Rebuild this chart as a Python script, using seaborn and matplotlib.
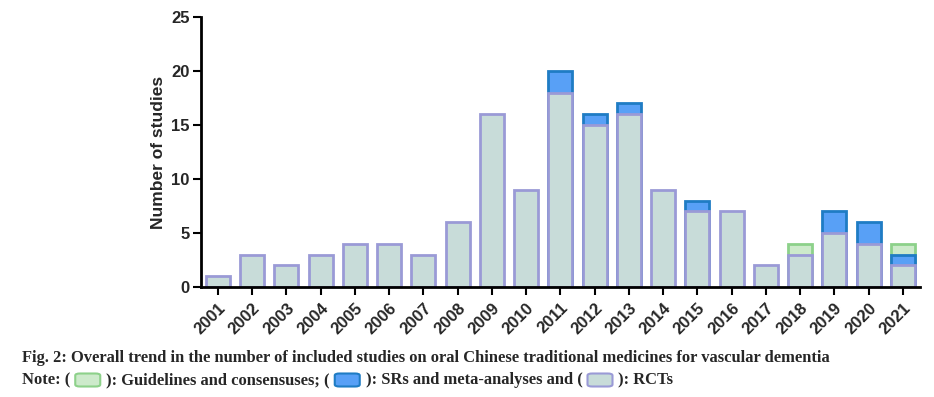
import matplotlib
matplotlib.use('Agg')
import matplotlib.pyplot as plt
import numpy as np
import pandas as pd
import seaborn as sns
from matplotlib.patches import FancyBboxPatch

# Dados
years = [str(y) for y in range(2001, 2022)]
rcts = [1, 3, 2, 3, 4, 4, 3, 6, 16, 9, 18, 15, 16, 9, 7, 7, 2, 3, 5, 4, 2]
srs = [0, 0, 0, 0, 0, 0, 0, 0, 0, 0, 2, 1, 1, 0, 1, 0, 0, 0, 2, 2, 1]
guidelines = [0, 0, 0, 0, 0, 0, 0, 0, 0, 0, 0, 0, 0, 0, 0, 0, 0, 1, 0, 0, 1]

caption = 'Fig. 2: Overall trend in the number of included studies on oral Chinese traditional medicines for vascular dementia'

# cores
rct_face, rct_edge = '#c8dcd9', '#9a9ad6'
sr_face, sr_edge = '#58a0f6', '#1f7cc4'
gl_face, gl_edge = '#cdeacb', '#8dd18a'

df = pd.DataFrame({'year': years, 'rct': rcts, 'sr': srs, 'gl': guidelines})
df['rct_sr'] = df['rct'] + df['sr']
df['total'] = df['rct_sr'] + df['gl']

sns.set_style('white')
plt.rcParams['font.family'] = ['Liberation Sans', 'DejaVu Sans']

fig = plt.figure(figsize=(9.34, 3.97), dpi=100)
ax = fig.add_axes([0.215, 0.277, 0.77, 0.68])

# barras empilhadas (sobreposição de totais acumulados)
for col, face, edge, show in [('total', gl_face, gl_edge, df['gl'] > 0),
                              ('rct_sr', sr_face, sr_edge, df['sr'] > 0),
                              ('rct', rct_face, rct_edge, df['rct'] > 0)]:
    sub = df.copy()
    sub.loc[~show, col] = 0
    sns.barplot(data=sub, x='year', y=col, order=years, color=face, saturation=1,
                width=0.7, edgecolor=edge, linewidth=2, ax=ax)

# remove barras de altura zero (evita linhas soltas)
for p in ax.patches:
    if p.get_height() == 0:
        p.set_visible(False)

ax.set_xlim(-0.5, 20.5)
ax.set_ylim(0, 25)
ax.set_yticks([0, 5, 10, 15, 20, 25])
ax.set_xlabel('')
ax.set_ylabel('Number of studies', fontsize=12.5, fontweight='bold', labelpad=4)
sns.despine(ax=ax)
for s in ['left', 'bottom']:
    ax.spines[s].set_linewidth(2)
    ax.spines[s].set_color('black')
ax.tick_params(axis='both', direction='out', length=6, width=1.5, color='black',
               labelsize=12, bottom=True, left=True)
ax.tick_params(axis='y', pad=2)
for lab in ax.get_yticklabels():
    lab.set_fontweight('bold')
for lab in ax.get_xticklabels():
    lab.set_fontweight('bold')
    lab.set_rotation(45)
    lab.set_ha('right')
    lab.set_rotation_mode('anchor')

# legenda em forma de nota no rodapé
serif = dict(family=['Liberation Serif', 'DejaVu Serif'], fontweight='bold', fontsize=11.9)
fig.text(22 / 934, 1 - 358 / 397, caption, va='center', ha='left', **serif)

renderer = fig.canvas.get_renderer()
x = 22
ynote = 1 - 380 / 397
pieces = [('Note: (', None), ('box', (gl_face, gl_edge)), ('): Guidelines and consensuses; (', None),
          ('box', (sr_face, sr_edge)), ('): SRs and meta-analyses and (', None),
          ('box', (rct_face, rct_edge)), ('): RCTs', None)]
for txt, cols in pieces:
    if txt == 'box':
        x += 5
        bw, bh = 25, 13
        patch = FancyBboxPatch((x / 934, ynote - bh / 2 / 397), bw / 934, bh / 397,
                               boxstyle='round,pad=0,rounding_size=0.005',
                               transform=fig.transFigure, facecolor=cols[0],
                               edgecolor=cols[1], linewidth=1.5)
        fig.patches.append(patch)
        x += bw + 6
    else:
        t = fig.text(x / 934, ynote, txt, va='center', ha='left', **serif)
        x += t.get_window_extent(renderer).width

fig.savefig('out.png', dpi=100)
